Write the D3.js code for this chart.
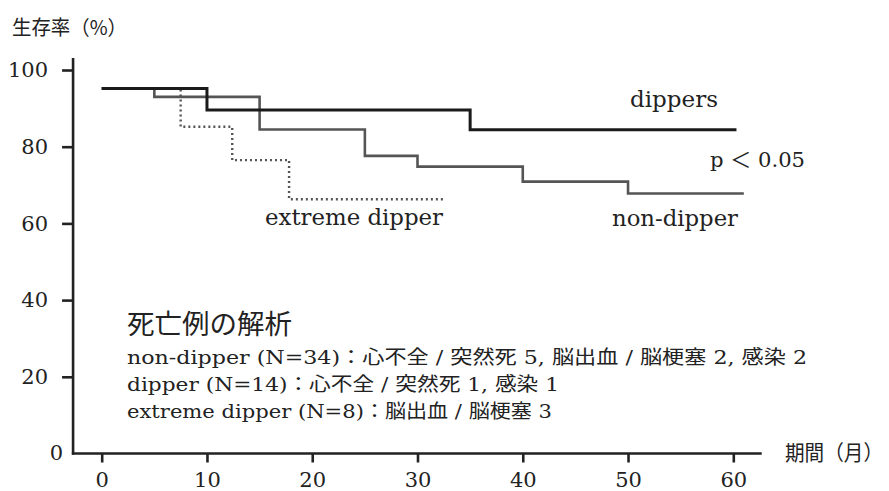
<!DOCTYPE html>
<html><head><meta charset="utf-8">
<script src="https://cdn.jsdelivr.net/npm/d3@7"></script>
<style>
body{margin:0;background:#fff;}
svg{display:block;}
text{fill:#222;}
</style></head>
<body>
<svg id="c" width="889" height="491"></svg>
<script>
// ---- data ----
const xTicks = [0,10,20,30,40,50,60];
const yTicks = [0,20,40,60,80,100];
const dippersT = [0,10,35,60.3];
const dippersV = [95.2,89.6,84.4,84.4];
const nonDipperT = [0,5,15,25,30,40,50,61];
const nonDipperV = [95.2,93.0,84.5,77.6,74.8,70.9,67.8,67.8];
const extremeT = [0,7.5,12.4,17.8,32.6];
const extremeV = [95.2,85.2,76.5,66.3,66.3];
const notes = [
  "non-dipper (N=34)：心不全 / 突然死 5, 脳出血 / 脳梗塞 2, 感染 2",
  "dipper (N=14)：心不全 / 突然死 1, 感染 1",
  "extreme dipper (N=8)：脳出血 / 脳梗塞 3"
];

const svg = d3.select("#c");
const x = d3.scaleLinear().domain([0,60]).range([101.7,733.3]);
const y = d3.scaleLinear().domain([0,100]).range([453.5,70]);
const serif = "'DejaVu Serif','Noto Sans CJK JP',serif";
const cjk = "'Noto Sans CJK JP','DejaVu Serif',sans-serif";
const ink = "#222";

// axis lines
const x0 = x(-2.72), x1 = x(62.7), yTop = y(103.1);
svg.append("line").attr("x1",x0).attr("x2",x0).attr("y1",yTop).attr("y2",y(0)+1.2)
  .attr("stroke",ink).attr("stroke-width",2.6);
svg.append("line").attr("x1",x0-1.2).attr("x2",x1).attr("y1",y(0)).attr("y2",y(0))
  .attr("stroke",ink).attr("stroke-width",2.6);

// y axis ticks
const gy = svg.append("g").attr("transform",`translate(${x0},0)`)
  .call(d3.axisLeft(y).tickValues(yTicks).tickSize(11).tickPadding(14).tickFormat(d3.format("d")));
gy.select(".domain").remove();
gy.selectAll(".tick line").attr("stroke",ink).attr("stroke-width",2.6);
gy.selectAll(".tick text").attr("font-family",serif).attr("font-size",21).attr("fill",ink);
gy.selectAll(".tick").filter(d=>d===0).select("line").remove();
gy.selectAll(".tick").filter(d=>d===0).select("text").attr("x",-10).attr("dy","0.30em");

// x axis ticks
const gx = svg.append("g").attr("transform",`translate(0,${y(0)})`)
  .call(d3.axisBottom(x).tickValues(xTicks).tickSize(9).tickPadding(10).tickFormat(d3.format("d")));
gx.select(".domain").remove();
gx.selectAll(".tick line").attr("stroke",ink).attr("stroke-width",2.6);
gx.selectAll(".tick text").attr("font-family",serif).attr("font-size",21).attr("fill",ink);

// curves
const line = d3.line().x(d=>x(d[0])).y(d=>y(d[1])).curve(d3.curveStepAfter);
const zip = (t,v)=>t.map((d,i)=>[d,v[i]]);
svg.append("path").datum(zip(extremeT,extremeV)).attr("d",line)
  .attr("fill","none").attr("stroke","#555").attr("stroke-width",2.4).attr("stroke-dasharray","2,3");
svg.append("path").datum(zip(nonDipperT,nonDipperV)).attr("d",line)
  .attr("fill","none").attr("stroke","#555").attr("stroke-width",2.6);
svg.append("path").datum(zip(dippersT,dippersV)).attr("d",line)
  .attr("fill","none").attr("stroke","#1a1a1a").attr("stroke-width",3);

// labels
function label(txt,xx,yy,size,len,fam){
  const t = svg.append("text").attr("x",xx).attr("y",yy).attr("font-family",fam||serif)
    .attr("font-size",size).attr("fill",ink).text(txt);
  if(len) t.attr("textLength",len).attr("lengthAdjust","spacingAndGlyphs");
  return t;
}
label("生存率（%）",12,35,20,115,cjk);
label("期間（月）",785,460,21,98,cjk);
label("dippers",630,107,22,88);
label("p ＜ 0.05",710,167,21,95);
label("non-dipper",612,226,22,126);
label("extreme dipper",265,225,22,178);
label("死亡例の解析",127,334,27,165,cjk);
const lens = [680,432,425];
const bases = [364,391,418];
notes.forEach((n,i)=>label(n,127,bases[i],19,lens[i]));
</script>
</body></html>
